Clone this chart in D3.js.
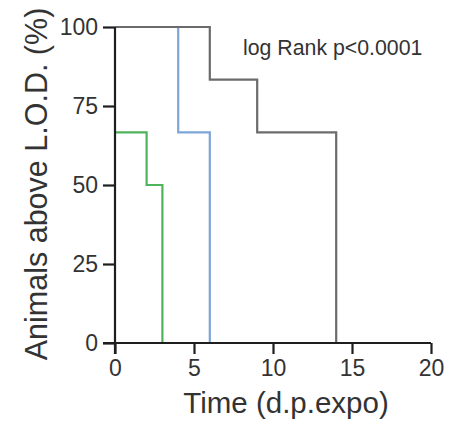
<!DOCTYPE html>
<html>
<head>
<meta charset="utf-8">
<script src="https://cdn.jsdelivr.net/npm/d3@7"></script>
<style>
  html, body { margin: 0; padding: 0; background: #fff; }
  svg { display: block; font-family: "Liberation Sans", Arial, Helvetica, sans-serif; }
</style>
</head>
<body>
<svg id="chart" width="451" height="425"></svg>
<script>
// Kaplan–Meier style step curves: time (days post exposure) and % of animals above L.O.D.
const greyTimes = [0, 6, 9, 14];
const greyValues = [100, 83.33, 66.67, 0];
const blueTimes = [0, 4, 6];
const blueValues = [100, 66.67, 0];
const greenTimes = [0, 2, 3];
const greenValues = [66.67, 50, 0];

const xTicks = [0, 5, 10, 15, 20];
const yTicks = [0, 25, 50, 75, 100];

const series = [
  { name: "blue", times: blueTimes, values: blueValues, color: "#7da5d8" },
  { name: "green", times: greenTimes, values: greenValues, color: "#4fb35c" },
  { name: "grey", times: greyTimes, values: greyValues, color: "#6b6b6b" }
];

const svg = d3.select("#chart");
const x = d3.scaleLinear().domain([0, 20]).range([115, 431]);
const y = d3.scaleLinear().domain([0, 100]).range([343, 27]);

const line = d3.line()
  .x(d => x(d[0]))
  .y(d => y(d[1]))
  .curve(d3.curveStepAfter);

svg.append("g")
  .selectAll("path")
  .data(series)
  .join("path")
  .attr("fill", "none")
  .attr("stroke", d => d.color)
  .attr("stroke-width", 2.2)
  .attr("d", d => line(d.times.map((t, i) => [t, d.values[i]])));

// Axes
const xAxis = svg.append("g")
  .attr("transform", `translate(0,${y(0)})`)
  .call(d3.axisBottom(x).tickValues(xTicks).tickSize(11).tickPadding(6).tickSizeOuter(0));
const yAxis = svg.append("g")
  .attr("transform", `translate(${x(0)},0)`)
  .call(d3.axisLeft(y).tickValues(yTicks).tickSize(12).tickPadding(5).tickSizeOuter(0));

[xAxis, yAxis].forEach(g => {
  g.select(".domain").attr("stroke", "#1e1e1e").attr("stroke-width", 2.2);
  g.selectAll(".tick line").attr("stroke", "#1e1e1e").attr("stroke-width", 2.2);
  g.selectAll(".tick text")
    .attr("fill", "#333")
    .attr("font-size", 23)
    .attr("font-family", "Liberation Sans, Arial, sans-serif");
});
// axis lines run slightly past the origin, where the two axes cross
xAxis.select(".domain").attr("d", `M${x(0) - 12},0H${x(20)}`);
yAxis.select(".domain").attr("d", `M0,${y(0) + 11}V${y(100)}`);

// Axis titles
svg.append("text")
  .attr("x", 286)
  .attr("y", 413)
  .attr("text-anchor", "middle")
  .attr("font-size", 29.5)
  .attr("fill", "#333")
  .text("Time (d.p.expo)");

svg.append("text")
  .attr("transform", "translate(47,184) rotate(-90)")
  .attr("text-anchor", "middle")
  .attr("font-size", 30.5)
  .attr("fill", "#333")
  .text("Animals above L.O.D. (%)");

svg.append("text")
  .attr("x", 243)
  .attr("y", 55)
  .attr("font-size", 21.3)
  .attr("fill", "#333")
  .text("log Rank p<0.0001");
</script>
</body>
</html>
